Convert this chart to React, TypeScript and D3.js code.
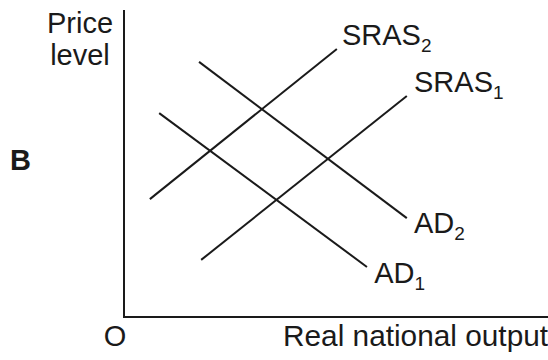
import React from 'react';
import * as d3 from 'd3';

// curve end points in model units (x: output 0-10, y: price level 0-10)
const curveNames = ['SRAS2', 'SRAS1', 'AD2', 'AD1'];
const curveStartX = [0.61, 1.82, 1.77, 0.83];
const curveStartY = [3.84, 1.86, 8.31, 6.64];
const curveEndX = [5.02, 6.67, 6.67, 5.73];
const curveEndY = [8.73, 7.2, 3.22, 1.63];
const labelBase = ['SRAS', 'SRAS', 'AD', 'AD'];
const labelSub = ['2', '1', '2', '1'];
// label anchor points in model units
const labelX = [5.14, 6.84, 6.84, 5.9];
const labelY = [8.86, 7.33, 2.73, 1.1];

const yTitle = ['Price', 'level'];
const xTitle = 'Real national output';
const originLabel = 'O';
const panelLabel = 'B';

const width = 548;
const height = 360;
const margin = { left: 124, top: 10, right: 0, bottom: 43 };
const ink = '#1a1a1a';
const font = '"Liberation Sans", Arial, sans-serif';
const fs = 29;

export default function App() {
  const x = d3
    .scaleLinear()
    .domain([0, 10])
    .range([margin.left, width - margin.right]);
  const y = d3
    .scaleLinear()
    .domain([0, 10])
    .range([height - margin.bottom, margin.top]);

  const line = d3
    .line<[number, number]>()
    .x(d => x(d[0]))
    .y(d => y(d[1]));

  const x0 = x(0);
  const y0 = y(0);

  return (
    <svg
      width={width}
      height={height}
      style={{ position: 'absolute', left: 0, top: 0, background: '#fff' }}
      fontFamily={font}
    >
      <rect width={width} height={height} fill="#fff" />
      <path
        d={`M${x0},${y(10)}V${y0}H${x(10)}`}
        fill="none"
        stroke={ink}
        strokeWidth={2}
      />
      {curveNames.map((name, i) => (
        <path
          key={name}
          d={
            line([
              [curveStartX[i], curveStartY[i]],
              [curveEndX[i], curveEndY[i]],
            ]) || ''
          }
          fill="none"
          stroke={ink}
          strokeWidth={2}
        />
      ))}
      {curveNames.map((name, i) => (
        <text
          key={name + '-label'}
          x={x(labelX[i])}
          y={y(labelY[i])}
          fontSize={fs}
          fill={ink}
        >
          {labelBase[i]}
          <tspan fontSize={19} dy={7}>
            {labelSub[i]}
          </tspan>
        </text>
      ))}
      {yTitle.map((t, i) => (
        <text
          key={t}
          x={80}
          y={33 + i * 32}
          textAnchor="middle"
          fontSize={fs}
          fill={ink}
        >
          {t}
        </text>
      ))}
      <text x={10} y={170} fontSize={fs} fontWeight="bold" fill={ink}>
        {panelLabel}
      </text>
      <text x={115} y={346} textAnchor="middle" fontSize={fs} fill={ink}>
        {originLabel}
      </text>
      <text x={283} y={346} fontSize={29.8} fill={ink}>
        {xTitle}
      </text>
    </svg>
  );
}
